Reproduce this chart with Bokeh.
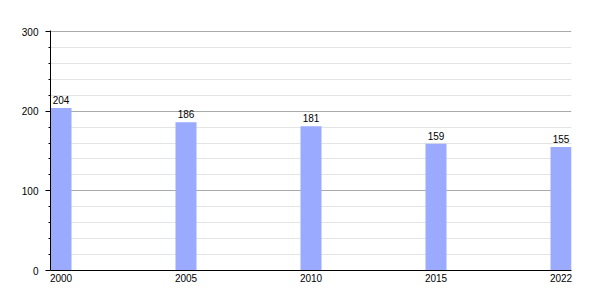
from bokeh.plotting import figure
from bokeh.models import ColumnDataSource, FixedTicker, Range1d
from bokeh.embed import file_html
from bokeh.resources import INLINE
from bokeh.core.properties import value

years = ["2000", "2005", "2010", "2015", "2022"]
population = [204, 186, 181, 159, 155]

xs = list(range(len(years)))
src = ColumnDataSource(dict(x=xs, top=population, label=[str(v) for v in population]))

p = figure(frame_width=521, frame_height=240, output_backend="svg", toolbar_location=None,
           x_range=Range1d(-0.084, len(years) - 1 + 0.084), y_range=Range1d(0, 300 * 240 / 239),
           min_border_left=50, min_border_right=29, min_border_top=30, min_border_bottom=30)
p.outline_line_color = None
p.background_fill_color = "white"
p.border_fill_color = "white"

p.vbar(x="x", top="top", width=0.168, bottom=0, source=src, fill_color="#99aaff", line_color=None)
p.text(x="x", y="top", text="label", source=src, text_align="center", text_baseline="bottom",
       y_offset=-4, text_font=value("Liberation Sans"), text_font_size="10px", text_color="black")

p.xgrid.visible = False
p.xaxis.ticker = FixedTicker(ticks=xs)
p.xaxis.major_label_overrides = {i: y for i, y in enumerate(years)}
p.xaxis.major_tick_line_color = None
p.xaxis.minor_tick_line_color = None
p.xaxis.major_tick_out = 0
p.xaxis.major_tick_in = 0
p.xaxis.minor_tick_out = 0
p.xaxis.major_label_standoff = 3
p.xaxis.axis_line_color = "black"
p.xaxis.major_label_text_font = "Liberation Sans"
p.xaxis.major_label_text_font_size = "10px"
p.xaxis.major_label_text_color = "black"

p.yaxis.ticker = FixedTicker(ticks=[0, 100, 200, 300], minor_ticks=[20, 40, 60, 80, 120, 140, 160, 180, 220, 240, 260, 280])
p.ygrid.ticker = p.yaxis.ticker
p.yaxis.major_tick_out = 5
p.yaxis.major_tick_in = 0
p.yaxis.minor_tick_out = 2
p.yaxis.minor_tick_in = 0
p.yaxis.major_label_standoff = 7
p.yaxis.axis_line_color = "black"
p.yaxis.major_label_text_font = "Liberation Sans"
p.yaxis.major_label_text_font_size = "10px"
p.yaxis.major_label_text_color = "black"
p.ygrid.grid_line_color = "#aaaaaa"
p.ygrid.minor_grid_line_color = "#e4e4e4"

open("out.html", "w").write(file_html(p, INLINE))
